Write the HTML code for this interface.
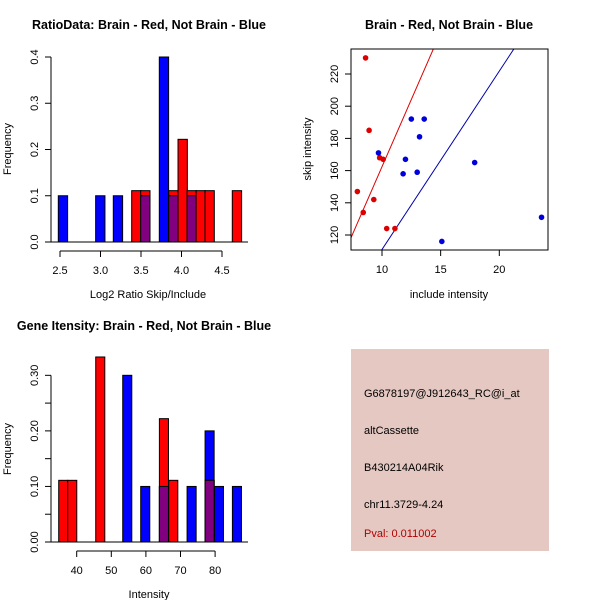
<!DOCTYPE html>
<html><head><meta charset="utf-8"><style>
body{margin:0;background:#fff;}
svg{display:block;font-family:"Liberation Sans",Arial,sans-serif;}
</style></head><body>
<svg id="s" width="600" height="600" viewBox="0 0 600 600">
<rect width="600" height="600" fill="#fff"/>
<text x="149" y="29" text-anchor="middle" font-size="12.5" font-weight="bold">RatioData: Brain - Red, Not Brain - Blue</text>
<text x="449" y="29" text-anchor="middle" font-size="12.5" font-weight="bold">Brain - Red, Not Brain - Blue</text>
<text x="144" y="330" text-anchor="middle" font-size="12.5" font-weight="bold">Gene Itensity: Brain - Red, Not Brain - Blue</text>
<text x="148" y="298" text-anchor="middle" font-size="11">Log2 Ratio Skip/Include</text>
<text x="149" y="598" text-anchor="middle" font-size="11">Intensity</text>
<text x="449" y="298" text-anchor="middle" font-size="11">include intensity</text>
<text transform="translate(11,149) rotate(-90)" text-anchor="middle" font-size="11">Frequency</text>
<text transform="translate(11,449) rotate(-90)" text-anchor="middle" font-size="11">Frequency</text>
<text transform="translate(311,149) rotate(-90)" text-anchor="middle" font-size="11">skip intensity</text>
<g>
<rect x="351" y="349" width="198" height="202" fill="#E5C8C2"/>
<text x="364" y="397" font-size="11">G6878197@J912643_RC@i_at</text>
<text x="364" y="434" font-size="11">altCassette</text>
<text x="364" y="471" font-size="11">B430214A04Rik</text>
<text x="364" y="508" font-size="11">chr11.3729-4.24</text>
<text x="364" y="537" font-size="11" fill="#B00000">Pval: 0.011002</text>
</g>
<g id="g1"></g>
<g id="g2"></g>
<g id="g3"></g>
</svg>
<script>
// Ratio histogram data
const ratioBlueLeft=[2.479,2.94,3.158,3.496,3.726,3.842,4.068];
const ratioBlueVals=[0.1,0.1,0.1,0.1,0.4,0.1,0.1];
const ratioRedLeft=[3.385,3.496,3.842,3.957,4.068,4.18,4.29,4.627];
const ratioRedVals=[0.111,0.111,0.111,0.222,0.111,0.111,0.111,0.111];
const ratioBinW=0.115;
const ratioXTicks=["2.5","3.0","3.5","4.0","4.5"];
const ratioYTicks=["0.0","0.1","0.2","0.3","0.4"];
// Intensity histogram data
const intBlueLeft=[53.3,58.5,63.9,71.9,77.1,79.8,85.0];
const intBlueVals=[0.3,0.1,0.1,0.1,0.2,0.1,0.1];
const intRedLeft=[34.8,37.4,45.5,63.9,66.6,77.1];
const intRedVals=[0.111,0.111,0.333,0.222,0.111,0.111];
const intBinW=2.62;
const intXTicks=["40","50","60","70","80"];
const intYTicks=["0.00","0.05","0.10","0.15","0.20","0.25","0.30"];
// Scatter data
const redX=[8.6,8.9,7.9,8.4,9.3,9.8,10.1,10.4,11.1];
const redY=[230,185,147,134,142,168,167,124,124];
const blueX=[9.7,12.5,13.6,13.2,12.0,11.8,13.0,17.9,15.1,23.6];
const blueY=[171,192,192,181,167,158,159,165,116,131];
const redLine=[-4.6,16.7];
const blueLine=[0.2,11.08];
const scXTicks=["10","15","20"];
const scYTicks=["120","140","160","180","200","220"];

const NS="http://www.w3.org/2000/svg";
function mk(p,t,a){const e=document.createElementNS(NS,t);for(const k in a)e.setAttribute(k,a[k]);p.appendChild(e);return e;}

function hist(g,o){
  const sx=v=>o.x0+(v-o.d0)*o.kx, sy=v=>o.y0-v*o.ky;
  o.bl.forEach((l,i)=>{const r=mk(g,'rect',{x:sx(l),y:sy(o.bv[i]),width:o.w*o.kx,height:o.bv[i]*o.ky,fill:'#0000FF',stroke:'#000','stroke-width':1});
    
    });
  o.rl.forEach((l,i)=>{const r=mk(g,'rect',{x:sx(l),y:sy(o.rv[i]),width:o.w*o.kx,height:o.rv[i]*o.ky,fill:'#FF0000',stroke:'#000','stroke-width':1});
    
    
    o.bl.forEach((b,j)=>{if(Math.abs(b-l)<0.01){const h=Math.min(o.bv[j],o.rv[i]);
      const p=mk(g,'rect',{x:sx(l),y:sy(h),width:o.w*o.kx,height:h*o.ky,fill:'#800080',stroke:'#000','stroke-width':1});
      
      }});});
  mk(g,'line',{x1:51,x2:248,y1:o.y0,y2:o.y0,stroke:'#000'});
  const yt=o.yt.map(Number);
  mk(g,'line',{x1:51,x2:51,y1:sy(yt[0]),y2:sy(yt[yt.length-1]),stroke:'#000'});
  o.yt.forEach((t,i)=>{const y=sy(+t);mk(g,'line',{x1:45,x2:51,y1:y,y2:y,stroke:'#000'});
    if(!o.skip||i%2===0){const tx=mk(g,'text',{transform:`translate(38,${y}) rotate(-90)`,'text-anchor':'middle','font-size':11});tx.textContent=t;
    
    }});
  const xt=o.xt.map(Number);
  mk(g,'line',{x1:sx(xt[0]),x2:sx(xt[xt.length-1]),y1:o.y0+9,y2:o.y0+9,stroke:'#000'});
  o.xt.forEach(t=>{const x=sx(+t);mk(g,'line',{x1:x,x2:x,y1:o.y0+9,y2:o.y0+15,stroke:'#000'});
    const tx=mk(g,'text',{x:x,y:o.y0+32,'text-anchor':'middle','font-size':11});tx.textContent=t;
    
    });
}
hist(document.getElementById('g1'),{x0:60,d0:2.5,kx:81,y0:242,ky:462.5,bl:ratioBlueLeft,bv:ratioBlueVals,rl:ratioRedLeft,rv:ratioRedVals,w:ratioBinW,xt:ratioXTicks,yt:ratioYTicks});
hist(document.getElementById('g3'),{x0:76.7,d0:40,kx:3.46,y0:542,ky:555.6,bl:intBlueLeft,bv:intBlueVals,rl:intRedLeft,rv:intRedVals,w:intBinW,xt:intXTicks,yt:intYTicks,skip:true});

(function(){
  const g=document.getElementById('g2');
  const sx=v=>382+(v-10)*11.73, sy=v=>235-(v-120)*1.61;
  mk(g,'defs',{}).innerHTML='<clipPath id="cp"><rect x="351" y="49" width="197" height="201"/></clipPath>';
  const lines=[[redLine,'#DD0000'],[blueLine,'#0000AA']];
  lines.forEach(([ln,c])=>{const x1=7.36,x2=24.15;
    const l=mk(g,'line',{x1:sx(x1),y1:sy(ln[0]+ln[1]*x1),x2:sx(x2),y2:sy(ln[0]+ln[1]*x2),stroke:c,'clip-path':'url(#cp)'});
    
    });
  redX.forEach((x,i)=>{const c=mk(g,'circle',{cx:sx(x),cy:sy(redY[i]),r:2.8,fill:'#DD0000'});
    
    });
  blueX.forEach((x,i)=>{const c=mk(g,'circle',{cx:sx(x),cy:sy(blueY[i]),r:2.8,fill:'#0000DD'});
    
    });
  mk(g,'rect',{x:351,y:49,width:197,height:201,fill:'none',stroke:'#000'});
  scXTicks.forEach(t=>{const x=sx(+t);mk(g,'line',{x1:x,x2:x,y1:250,y2:256,stroke:'#000'});
    const tx=mk(g,'text',{x:x,y:273,'text-anchor':'middle','font-size':11});tx.textContent=t;
    
    });
  scYTicks.forEach(t=>{const y=sy(+t);mk(g,'line',{x1:345,x2:351,y1:y,y2:y,stroke:'#000'});
    const tx=mk(g,'text',{transform:`translate(338,${y}) rotate(-90)`,'text-anchor':'middle','font-size':11});tx.textContent=t;
    
    });
})();
</script>
</body></html>
